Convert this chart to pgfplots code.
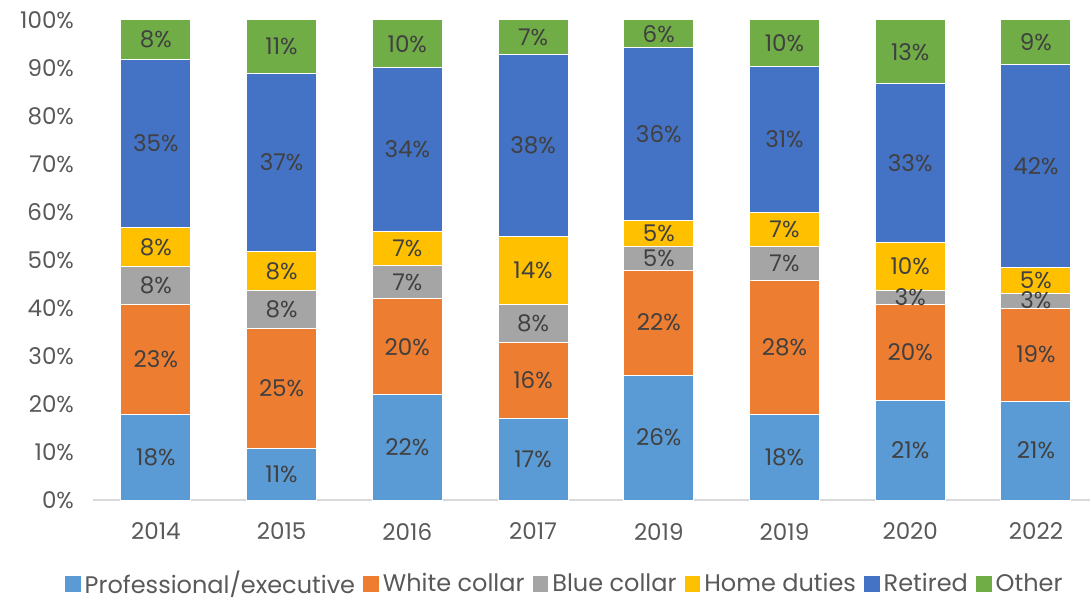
\documentclass[border=0pt]{standalone}
\usepackage{pgfplots}
\pgfplotsset{compat=1.18}
\usepackage{fontspec}
\setmainfont{Poppins}
\definecolor{cprof}{HTML}{5B9BD5}
\definecolor{cwhite}{HTML}{ED7D31}
\definecolor{cblue}{HTML}{A5A5A5}
\definecolor{chome}{HTML}{FFC000}
\definecolor{cret}{HTML}{4472C4}
\definecolor{coth}{HTML}{70AD47}
\definecolor{ctxt}{HTML}{595959}
\definecolor{clbl}{HTML}{404040}
\definecolor{caxis}{HTML}{D9D9D9}
\pgfplotsset{
  sq/.style={draw=white,line width=0.5pt,fill=#1,
    legend image code/.code={\fill[#1] (0pt,-3.7pt) rectangle (7.4pt,3.7pt);}},
}
\begin{document}
\begin{tikzpicture}
\begin{axis}[name=ax,scale only axis,width=502.9pt,height=240pt,
  ybar stacked,bar width=35pt,
  xmin=-0.5,xmax=7.5,ymin=0,ymax=100,
  xtick={0,...,7},xticklabels={2014,2015,2016,2017,2019,2019,2020,2022},
  ytick={0,10,...,100},yticklabel={\pgfmathprintnumber{\tick}\%},
  /pgf/number format/assume math mode=true,
  tick label style={font=\fontsize{11.5}{13}\selectfont,text=ctxt},
  yticklabel style={xshift=-6pt},
  xticklabel style={yshift=-8pt},
  major tick length=0pt,
  axis x line*=bottom,axis y line*=left,
  x axis line style={draw=caxis,line width=1pt,-},
  y axis line style={draw=none},
  point meta=explicit,
  nodes near coords={\pgfmathprintnumber[fixed,precision=0]{\pgfplotspointmeta}\%},
  every node near coord/.append style={font=\fontsize{11.5}{13}\selectfont,text=clbl,
    anchor=center},
  legend columns=-1,
  legend style={at={(0.470,-0.175)},anchor=center,draw=none,fill=none,
    font=\fontsize{12}{14}\selectfont,text=ctxt,
    /tikz/every even column/.append style={column sep=2pt},
    inner sep=0pt},
]
\addplot[sq=cprof] coordinates {(0,17.9)[17.9] (1,10.8)[10.8] (2,21.9)[21.9] (3,16.9)[16.9] (4,26.0)[26.0] (5,17.9)[17.9] (6,20.8)[20.8] (7,20.6)[20.6]};
\addplot[sq=cwhite] coordinates {(0,22.9)[22.9] (1,25.0)[25.0] (2,20.0)[20.0] (3,16.0)[16.0] (4,21.9)[21.9] (5,27.9)[27.9] (6,20.0)[20.0] (7,19.4)[19.4]};
\addplot[sq=cblue] coordinates {(0,7.9)[7.9] (1,7.9)[7.9] (2,6.9)[6.9] (3,7.9)[7.9] (4,5.0)[5.0] (5,7.1)[7.1] (6,2.9)[2.9] (7,3.1)[3.1]};
\addplot[sq=chome] coordinates {(0,8.1)[8.1] (1,8.1)[8.1] (2,7.1)[7.1] (3,14.0)[14.0] (4,5.4)[5.4] (5,6.9)[6.9] (6,10.0)[10.0] (7,5.4)[5.4]};
\addplot[sq=cret] coordinates {(0,35.0)[35.0] (1,37.1)[37.1] (2,34.2)[34.2] (3,38.1)[38.1] (4,35.9)[35.9] (5,30.6)[30.6] (6,33.1)[33.1] (7,42.3)[42.3]};
\addplot[sq=coth] coordinates {(0,8.2)[8.2] (1,11.1)[11.1] (2,9.9)[9.9] (3,7.1)[7.1] (4,5.8)[5.8] (5,9.6)[9.6] (6,13.2)[13.2] (7,9.2)[9.2]};
\legend{Professional/executive,White collar,Blue collar,Home duties,Retired,Other}
\end{axis}
\pgfresetboundingbox
\path[use as bounding box] ([shift={(-46.5pt,-49.5pt)}]ax.south west) rectangle ([shift={(498.5pt,250pt)}]ax.south west);
\end{tikzpicture}
\end{document}
